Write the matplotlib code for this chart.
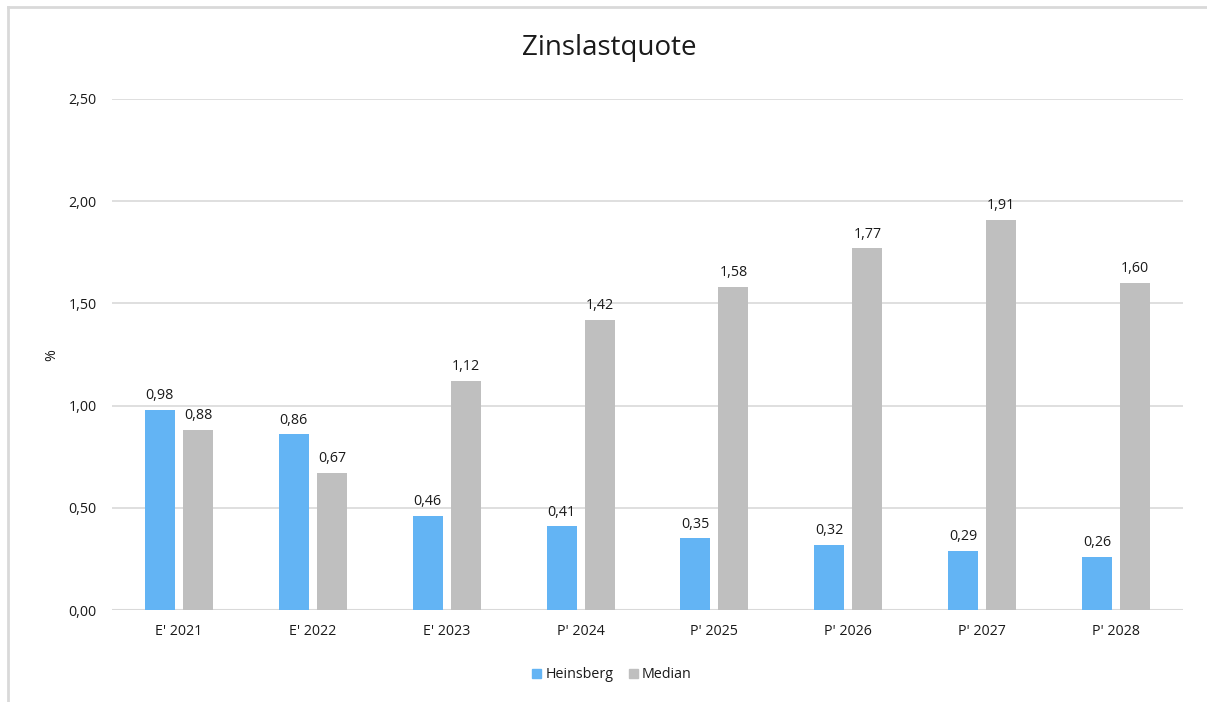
import matplotlib
matplotlib.use("Agg")
import matplotlib.pyplot as plt
import numpy as np
from matplotlib.patches import Rectangle
from matplotlib.lines import Line2D

categories = ["E' 2021", "E' 2022", "E' 2023", "P' 2024", "P' 2025", "P' 2026", "P' 2027", "P' 2028"]
heinsberg = [0.98, 0.86, 0.46, 0.41, 0.35, 0.32, 0.29, 0.26]
median = [0.88, 0.67, 1.12, 1.42, 1.58, 1.77, 1.91, 1.60]
yticks = [0.0, 0.5, 1.0, 1.5, 2.0, 2.5]
series_names = ["Heinsberg", "Median"]

blue = "#63B4F4"
grey = "#BFBFBF"
grid_c = "#D9D9D9"
txt = "#1a1a1a"

plt.rcParams['font.family'] = ['Open Sans', 'DejaVu Sans']

fig = plt.figure(figsize=(12.07, 7.02), dpi=100)
W, H = 1207, 702
ax = fig.add_axes([112 / W, 1 - 610 / H, (1183 - 112) / W, (610 - 99) / H])

x = np.arange(len(categories))
bw = 0.224
off = 0.142
b1 = ax.bar(x - off, heinsberg, bw, color=blue, label=series_names[0], zorder=3)
b2 = ax.bar(x + off, median, bw, color=grey, label=series_names[1], zorder=3)

def fmt(v):
    return f"{v:.2f}".replace(".", ",")

fs = 10.3
for bars, vals in ((b1, heinsberg), (b2, median)):
    for r, v in zip(bars, vals):
        ax.annotate(fmt(v), (r.get_x() + r.get_width() / 2, v), xytext=(0, 4.8),
                    textcoords="offset points", ha="center", va="bottom",
                    fontsize=fs, color=txt)

ax.set_xlim(-0.5, len(categories) - 0.5)
ax.set_ylim(0, 2.5)
ax.set_yticks(yticks)
ax.set_yticklabels([fmt(v) for v in yticks], fontsize=fs, color=txt)
ax.set_xticks(x)
ax.set_xticklabels(categories, fontsize=fs, color=txt)
ax.tick_params(axis='both', length=0)
ax.tick_params(axis='y', pad=11)
ax.tick_params(axis='x', pad=10)
ax.grid(axis='y', color=grid_c, linewidth=1.2, zorder=0)
for s in ax.spines.values():
    s.set_visible(False)
ax.axhline(0, color=grid_c, linewidth=1.5, zorder=2)

fig.text(52 / W, 1 - 355 / H, "%", rotation=90, ha="center", va="center", fontsize=fs, color=txt)
fig.text(609 / W, 1 - 48 / H, "Zinslastquote", ha="center", va="center", fontsize=20, color=txt)

handles = [Rectangle((0, 0), 1, 1, color=blue), Rectangle((0, 0), 1, 1, color=grey)]
fig.legend(handles, series_names, loc="center", bbox_to_anchor=(612 / W, 1 - 675 / H),
           ncol=2, frameon=False, fontsize=fs, handlelength=0.6, handleheight=0.6,
           handletextpad=0.3, columnspacing=1.1, labelcolor=txt)

# chart border (left and top visible)
fig.add_artist(Line2D([8 / W, 8 / W], [0, 1 - 7 / H], color=grid_c, linewidth=2, transform=fig.transFigure))
fig.add_artist(Line2D([8 / W, 1], [1 - 7 / H, 1 - 7 / H], color=grid_c, linewidth=2, transform=fig.transFigure))

fig.savefig("out.png", dpi=100)
